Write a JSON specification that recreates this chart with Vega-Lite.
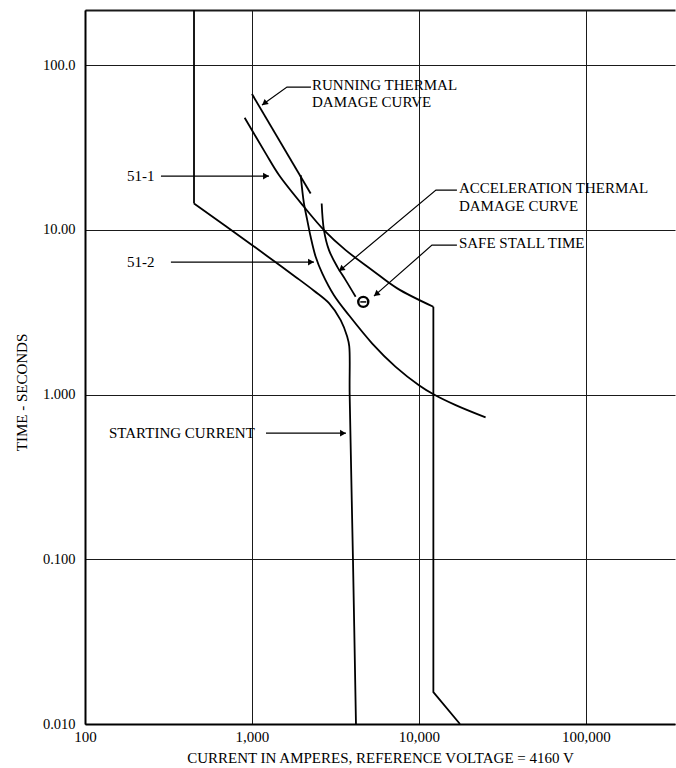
{
  "$schema": "https://vega.github.io/schema/vega-lite/v6.json",
  "width": 590,
  "height": 714,
  "autosize": "none",
  "padding": {"left": 85, "top": 10, "right": 1, "bottom": 44},
  "background": "white",
  "config": {"view": {"stroke": null}, "font": "Liberation Serif"},
  "datasets": {
    "curves": [
      {"s": "start", "i": 1, "x": 449.6, "y": 14.46},
      {"s": "start", "i": 2, "x": 1004, "y": 8.07},
      {"s": "start", "i": 3, "x": 1354, "y": 6.46},
      {"s": "start", "i": 4, "x": 1834, "y": 5.16},
      {"s": "start", "i": 5, "x": 2351, "y": 4.27},
      {"s": "start", "i": 6, "x": 2892, "y": 3.59},
      {"s": "start", "i": 7, "x": 3398, "y": 2.83},
      {"s": "start", "i": 8, "x": 3721, "y": 2.24},
      {"s": "start", "i": 9, "x": 3824, "y": 1.97},
      {"s": "start", "i": 10, "x": 3846, "y": 1.0},
      {"s": "start", "i": 11, "x": 4026, "y": 0.1},
      {"s": "start", "i": 12, "x": 4196, "y": 0.01},
      {"s": "51-1", "i": 1, "x": 904, "y": 47.9},
      {"s": "51-1", "i": 2, "x": 1208, "y": 29.1},
      {"s": "51-1", "i": 3, "x": 1451, "y": 21.5},
      {"s": "51-1", "i": 4, "x": 2048, "y": 13.8},
      {"s": "51-1", "i": 5, "x": 2698, "y": 9.96},
      {"s": "51-1", "i": 6, "x": 3639, "y": 7.53},
      {"s": "51-1", "i": 7, "x": 5253, "y": 5.69},
      {"s": "51-1", "i": 8, "x": 7417, "y": 4.41},
      {"s": "51-1", "i": 9, "x": 12200, "y": 3.41},
      {"s": "51-2", "i": 1, "x": 1957, "y": 21.5},
      {"s": "51-2", "i": 2, "x": 2048, "y": 14.46},
      {"s": "51-2", "i": 3, "x": 2143, "y": 11.46},
      {"s": "51-2", "i": 4, "x": 2246, "y": 9.07},
      {"s": "51-2", "i": 5, "x": 2407, "y": 6.86},
      {"s": "51-2", "i": 6, "x": 2636, "y": 5.44},
      {"s": "51-2", "i": 7, "x": 3097, "y": 4.01},
      {"s": "51-2", "i": 8, "x": 3809, "y": 3.03},
      {"s": "51-2", "i": 9, "x": 5253, "y": 2.04},
      {"s": "51-2", "i": 10, "x": 7254, "y": 1.473},
      {"s": "51-2", "i": 11, "x": 10000, "y": 1.14},
      {"s": "51-2", "i": 12, "x": 12297, "y": 1.0},
      {"s": "51-2", "i": 13, "x": 16590, "y": 0.862},
      {"s": "51-2", "i": 14, "x": 25070, "y": 0.726},
      {"s": "accel", "i": 1, "x": 2615, "y": 14.46},
      {"s": "accel", "i": 2, "x": 2698, "y": 9.96},
      {"s": "accel", "i": 3, "x": 2892, "y": 7.53},
      {"s": "accel", "i": 4, "x": 3243, "y": 5.96},
      {"s": "accel", "i": 5, "x": 3639, "y": 4.95},
      {"s": "accel", "i": 6, "x": 4178, "y": 3.92}
    ],
    "edges": [
      {"s": "start-top", "i": 1, "x": 449.6, "y": 215},
      {"s": "start-top", "i": 2, "x": 449.6, "y": 14.46},
      {"s": "51-1-tail", "i": 1, "x": 12200, "y": 3.41},
      {"s": "51-1-tail", "i": 2, "x": 12200, "y": 0.0156},
      {"s": "51-1-tail", "i": 3, "x": 17605, "y": 0.01},
      {"s": "running", "i": 1, "x": 1000, "y": 66.7},
      {"s": "running", "i": 2, "x": 2246, "y": 16.63}
    ],
    "leaders": [
      {"s": "lead-run", "i": 1, "x": 2256, "y": 73.5},
      {"s": "lead-run", "i": 2, "x": 1620, "y": 73.5},
      {"s": "lead-run", "i": 3, "x": 1148, "y": 57.2},
      {"s": "arr-511", "i": 1, "x": 285, "y": 21.2},
      {"s": "arr-511", "i": 2, "x": 1264, "y": 21.2},
      {"s": "arr-512", "i": 1, "x": 327, "y": 6.37},
      {"s": "arr-512", "i": 2, "x": 2351, "y": 6.37},
      {"s": "lead-acc", "i": 1, "x": 16885, "y": 17.42},
      {"s": "lead-acc", "i": 2, "x": 12640, "y": 17.42},
      {"s": "lead-acc", "i": 3, "x": 3319, "y": 5.61},
      {"s": "lead-safe", "i": 1, "x": 16885, "y": 8.07},
      {"s": "lead-safe", "i": 2, "x": 11963, "y": 8.07},
      {"s": "lead-safe", "i": 3, "x": 5377, "y": 3.96},
      {"s": "arr-start", "i": 1, "x": 1213, "y": 0.583},
      {"s": "arr-start", "i": 2, "x": 3655, "y": 0.583}
    ],
    "headsH": [
      {"x": 1213, "y": 21.2},
      {"x": 2256, "y": 6.37},
      {"x": 3507, "y": 0.583}
    ],
    "headsD": [
      {"x": 1187, "y": 58.6},
      {"x": 3424, "y": 5.77},
      {"x": 5551, "y": 4.07}
    ],
    "labels": [
      {"label": "RUNNING THERMAL", "x": 2287, "y": 75.6},
      {"label": "DAMAGE CURVE", "x": 2287, "y": 59.6},
      {"label": "51-1", "x": 178.4, "y": 21.2},
      {"label": "51-2", "x": 178.4, "y": 6.37},
      {"label": "ACCELERATION THERMAL", "x": 17360, "y": 17.92},
      {"label": "DAMAGE CURVE", "x": 17360, "y": 13.93},
      {"label": "SAFE STALL TIME", "x": 17360, "y": 8.3},
      {"label": "STARTING CURRENT", "x": 139.2, "y": 0.583}
    ],
    "stall": [
      {"x": 4640, "y": 3.65}
    ]
  },
  "encoding": {
    "x": {
      "field": "x",
      "type": "quantitative",
      "scale": {"type": "log", "domain": [100, 341600]},
      "axis": {
        "values": [100, 1000, 10000, 100000],
        "format": ",",
        "title": "CURRENT IN AMPERES, REFERENCE VOLTAGE  =  4160 V",
        "titleFont": "Liberation Serif",
        "titleFontSize": 15,
        "titleFontWeight": "normal",
        "titleColor": "black",
        "titlePadding": 6,
        "labelFont": "Liberation Serif",
        "labelFontSize": 15,
        "labelColor": "black",
        "labelPadding": 5,
        "labelFlush": false,
        "labelOverlap": false,
        "ticks": false,
        "domainColor": "black",
        "domainWidth": 2,
        "grid": true,
        "gridColor": "#1a1a1a",
        "gridWidth": 1
      }
    },
    "y": {
      "field": "y",
      "type": "quantitative",
      "scale": {"type": "log", "domain": [0.01, 216]},
      "axis": {
        "values": [0.01, 0.1, 1, 10, 100, 216],
        "labelExpr": "datum.value > 150 ? '' : datum.value > 50 ? '100.0' : datum.value > 5 ? '10.00' : datum.value > 0.5 ? '1.000' : datum.value > 0.05 ? '0.100' : '0.010'",
        "title": "TIME  -  SECONDS",
        "titleFont": "Liberation Serif",
        "titleFontSize": 15,
        "titleFontWeight": "normal",
        "titleColor": "black",
        "titlePadding": 13,
        "titleY": 382,
        "labelFont": "Liberation Serif",
        "labelFontSize": 14.5,
        "labelColor": "black",
        "labelPadding": 10,
        "labelBaseline": "middle",
        "labelFlush": false,
        "labelOverlap": false,
        "ticks": false,
        "domainColor": "black",
        "domainWidth": 2,
        "grid": true,
        "gridColor": "#1a1a1a",
        "gridWidth": {"condition": {"test": "datum.value > 150", "value": 2}, "value": 1}
      }
    }
  },
  "layer": [
    {
      "data": {"name": "curves"},
      "mark": {"type": "line", "interpolate": "catmull-rom", "color": "black", "strokeWidth": 1.8},
      "encoding": {"detail": {"field": "s"}, "order": {"field": "i", "type": "quantitative"}}
    },
    {
      "data": {"name": "edges"},
      "mark": {"type": "line", "color": "black", "strokeWidth": 1.8},
      "encoding": {"detail": {"field": "s"}, "order": {"field": "i", "type": "quantitative"}}
    },
    {
      "data": {"name": "leaders"},
      "mark": {"type": "line", "color": "black", "strokeWidth": 1.2},
      "encoding": {"detail": {"field": "s"}, "order": {"field": "i", "type": "quantitative"}}
    },
    {
      "data": {"name": "headsH"},
      "mark": {"type": "point", "shape": "triangle-right", "filled": true, "color": "black", "size": 45, "opacity": 1}
    },
    {
      "data": {"name": "headsD"},
      "mark": {"type": "point", "shape": "triangle-right", "filled": true, "color": "black", "size": 45, "angle": 141, "opacity": 1}
    },
    {
      "data": {"name": "labels"},
      "mark": {"type": "text", "align": "left", "baseline": "middle", "font": "Liberation Serif", "fontSize": 15, "color": "black"},
      "encoding": {"text": {"field": "label"}}
    },
    {
      "data": {"name": "stall"},
      "mark": {"type": "point", "shape": "circle", "filled": false, "stroke": "black", "strokeWidth": 2.4, "size": 100, "opacity": 1}
    },
    {
      "data": {"name": "stall"},
      "mark": {"type": "point", "shape": "stroke", "filled": false, "stroke": "black", "strokeWidth": 1.5, "size": 36, "opacity": 1}
    }
  ]
}
